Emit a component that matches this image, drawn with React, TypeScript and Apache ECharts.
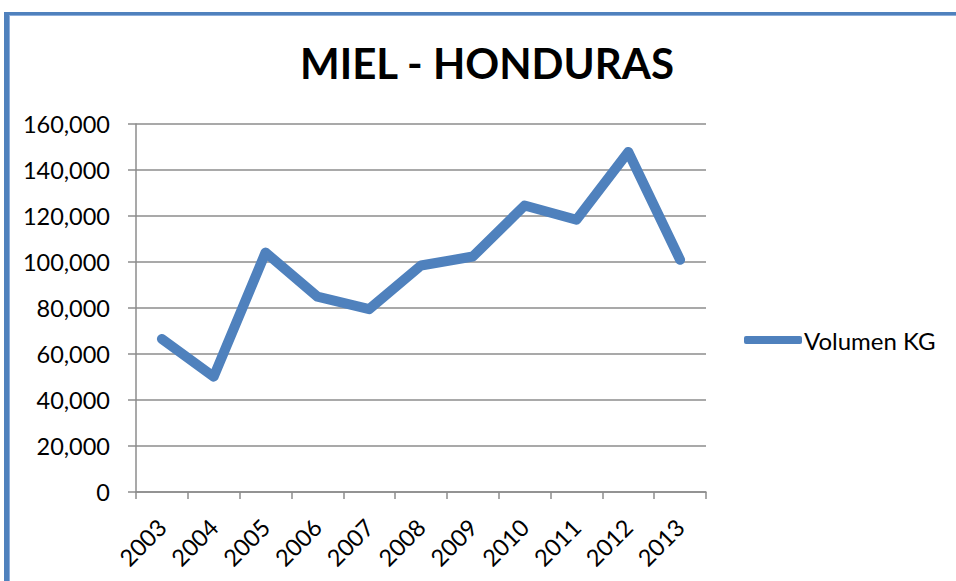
import React, { useEffect, useRef } from "react";
import * as echarts from "echarts";

const titleText = "MIEL - HONDURAS";
const seriesName = "Volumen KG";
const years = ["2003", "2004", "2005", "2006", "2007", "2008", "2009", "2010", "2011", "2012", "2013"];
const volumes = [66550, 50140, 104110, 84960, 79480, 98460, 102370, 124570, 118350, 147810, 100940];
const yMin = 0;
const yMax = 160000;
const yStep = 20000;

const BLUE = "#4F81BD";
const GRID = "#8C8C8C";
const FONT = "Lato";

export default function App() {
  const ref = useRef<HTMLDivElement>(null);
  useEffect(() => {
    if (!ref.current) return;
    const chart = echarts.init(ref.current, null, { renderer: "svg" });
    chart.setOption({
      animation: false,
      backgroundColor: "#ffffff",
      title: {
        text: titleText,
        left: 482,
        top: 37,
        textAlign: "center",
        textStyle: { fontFamily: FONT, fontWeight: "bold", fontSize: 42, color: "#000" },
      },
      legend: {
        data: [seriesName],
        left: 744,
        top: 328,
        padding: 0,
        icon: "roundRect",
        itemWidth: 58,
        itemHeight: 8,
        itemStyle: { color: BLUE },
        textStyle: { fontFamily: FONT, fontSize: 24, color: "#000", padding: [0, 0, 0, -3] },
      },
      grid: { left: 136, right: 250, top: 124, bottom: 89 },
      xAxis: {
        type: "category",
        data: years,
        boundaryGap: true,
        axisLine: { show: true, lineStyle: { color: GRID, width: 1.5 } },
        axisTick: { show: true, length: 7, lineStyle: { color: GRID, width: 1.5 } },
        axisLabel: { rotate: 45, margin: 31, fontFamily: FONT, fontSize: 23.5, color: "#000" },
        splitLine: { show: false },
      },
      yAxis: {
        type: "value",
        min: yMin,
        max: yMax,
        interval: yStep,
        axisLine: { show: true, lineStyle: { color: GRID, width: 1.5 } },
        axisTick: { show: true, length: 8, lineStyle: { color: GRID, width: 1.5 } },
        axisLabel: {
          margin: 26,
          fontFamily: FONT,
          fontSize: 23.5,
          color: "#000",
          formatter: (v: number) => v.toLocaleString("en-US"),
        },
        splitLine: { show: true, lineStyle: { color: GRID, width: 1.5 } },
      },
      series: [
        {
          name: seriesName,
          type: "line",
          data: volumes,
          showSymbol: false,
          symbol: "none",
          lineStyle: { color: BLUE, width: 10, cap: "round", join: "round" },
          itemStyle: { color: BLUE },
        },
      ],
      graphic: [
        { type: "rect", shape: { x: 4, y: 12, width: 952, height: 3 }, style: { fill: BLUE } },
        { type: "rect", shape: { x: 9, y: 15, width: 947, height: 1 }, style: { fill: "#8DAEDB" } },
        { type: "rect", shape: { x: 4, y: 12, width: 5, height: 569 }, style: { fill: BLUE } },
        { type: "rect", shape: { x: 9, y: 15, width: 1, height: 566 }, style: { fill: "#8DAEDB" } },
      ],
    });
    return () => chart.dispose();
  }, []);
  return (
    <div
      ref={ref}
      style={{ position: "fixed", left: 0, top: 0, width: 956, height: 581, background: "#fff" }}
    />
  );
}
